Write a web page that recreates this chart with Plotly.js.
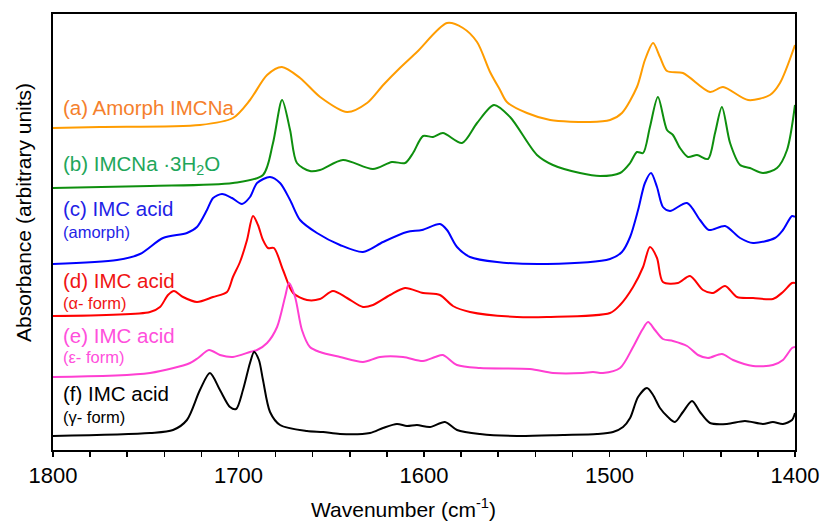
<!DOCTYPE html>
<html>
<head>
<meta charset="utf-8">
<script src="https://cdn.plot.ly/plotly-3.0.1.min.js"></script>
<style>html,body{margin:0;padding:0;background:#fff;}#chart{width:822px;height:521px;}</style>
</head>
<body>
<div id="chart"></div>
<script>
// Wavenumber (cm-1) and offset absorbance (arbitrary units)
const wn_a = [1800,1774.7,1720.8,1703,1693.8,1684.6,1676.6,1666.8,1656,1641.5,1630.7,1622,1613,1603.8,1587.6,1579,1571.4,1564.4,1559,1555.3,1544.5,1532,1510.5,1499.7,1493.3,1485.2,1480.9,1476.5,1472.8,1469,1460.4,1445.8,1438.8,1425.3,1413.5,1408.1,1400];
const abs_a = [322,323,325,332,350,375,383,372,353,338,347,365,382,398,427,422,408,378,360,348,337,330,328,330,337,363,390,407,393,379,377,358,363,350,355,367,405];

const wn_b = [1800,1747.7,1703,1686.8,1681.4,1676.5,1672.2,1668.5,1661.5,1656.1,1643.7,1627.5,1617.3,1610.2,1605.9,1600.5,1595.1,1589.8,1579.5,1571.4,1562.3,1553.6,1539.1,1530.5,1515.9,1505.1,1494.3,1488.9,1485.2,1481.9,1478.2,1473.9,1469,1465.8,1462,1457.7,1452.8,1446.9,1443.1,1439.4,1435,1429.6,1424.3,1417.3,1409.7,1404.3,1400];
const abs_b = [262,264,267,275,307,350,320,287,279,280,290,281,288,287,297,314,313,317,307,327,345,333,295,285,277,274,277,287,298,297,323,353,320,315,302,293,295,291,317,343,307,285,282,277,282,300,345];

const wn_c = [1800,1765.5,1753.1,1740.7,1727.8,1722.4,1717,1713.7,1708.9,1703.5,1698.1,1693.8,1690,1683,1677.6,1672.2,1666.8,1657.7,1645.3,1632.9,1622.1,1609.2,1601.1,1591.4,1587.6,1582.2,1575.2,1560.6,1533.7,1499.7,1493.3,1488.9,1484.6,1480.9,1477.6,1474.4,1471.2,1467.4,1458.2,1451.2,1446.4,1437.7,1429.6,1422.6,1410.8,1406.5,1401.6,1400];
const abs_c = [186,190,196,212,217,223,240,252,256,252,246,253,267,273,267,250,230,217,205,198,208,218,220,226,220,203,193,188,186,191,198,213,240,267,277,263,243,239,247,230,220,224,212,207,212,220,234,233];

const wn_d = [1800,1747.7,1742.3,1738,1734.8,1729.9,1722.4,1713.7,1706.2,1703,1699.2,1695.4,1692.2,1689.5,1686.8,1684.1,1680.9,1676,1670.6,1663.1,1656.1,1649.1,1641.5,1632.9,1627.5,1618.3,1610.2,1600.5,1591.4,1584.4,1575.2,1549.9,1533.7,1499.7,1494.3,1487.3,1481.9,1478.2,1474.4,1471.2,1463.1,1456.6,1449.6,1444.2,1437.7,1431.3,1422.6,1411.9,1406.5,1401.6,1400];
const abs_d = [134,138,143,155,159,153,148,153,158,173,188,210,234,225,210,202,202,180,157,150,151,159,152,143,145,155,162,157,155,144,138,133,133,137,145,163,183,203,192,168,167,174,160,157,164,153,152,151,158,167,167];

const wn_e = [1800,1747.7,1726.1,1721.8,1715.9,1710,1703,1693.8,1690,1684.6,1679.2,1674.9,1672.8,1669.5,1665.8,1661.5,1656.1,1645.3,1632.9,1623.7,1611.3,1600.5,1594,1589.8,1582.2,1569.8,1542.9,1530.5,1514.3,1508.9,1503.5,1494.3,1487.3,1482.4,1479.2,1475.5,1471.2,1465.8,1458.2,1452.3,1446.9,1439.4,1433.4,1422.6,1411.9,1406.5,1401.6,1400];
const abs_e = [73,77,87,92,100,95,93,98,100,107,123,153,167,153,120,103,98,93,88,93,93,89,93,95,85,82,81,77,77,78,77,82,103,120,128,120,111,109,104,95,92,96,90,84,85,90,102,103];

const wn_f = [1800,1747.7,1735.3,1727.8,1720.8,1715.4,1710,1704.6,1701.3,1697.6,1693.8,1691.6,1689,1686.8,1683,1677.6,1663.1,1654.4,1645.3,1629.1,1622.1,1614.6,1609.2,1603.8,1596.8,1588.7,1582.2,1569.8,1549.9,1525.1,1506.7,1498.1,1492.7,1488.9,1484.6,1479.8,1476.5,1472.8,1468.5,1464.7,1460.4,1455.5,1451.2,1445.8,1436.7,1427,1417.3,1411.9,1406.5,1401.6,1400];
const abs_f = [14,17,20,30,60,77,60,43,41,60,87,98,90,70,38,25,19,18,16,17,22,26,24,25,23,28,20,16,14,15,16,18,23,32,53,62,55,42,33,28,38,49,38,27,26,29,26,28,26,30,37];

const lineColors = ['#FF9C00','#0E8F0E','#0000FF','#FF0000','#FF3FD2','#000000'];
const labelColors = ['#F5802C','#1EA65A','#1F1FE6','#F01414','#FF50DC','#000000'];
const mainLabels = ['(a) Amorph IMCNa','(b) IMCNa ·3H<sub>2</sub>O','(c) IMC acid','(d) IMC acid','(e) IMC acid','(f) IMC acid'];
const subLabels = ['','','(amorph)','(α- form)','(ε- form)','(γ- form)'];
const mainLabelY = [343,285,242,170,115,57];
const subLabelY = [null,null,218,147,93,33];
const xTickVals = [1800,1700,1600,1500,1400];
const xTickText = ['1800','1700','1600','1500','1400'];

const wns = [wn_a,wn_b,wn_c,wn_d,wn_e,wn_f];
const abss = [abs_a,abs_b,abs_c,abs_d,abs_e,abs_f];

const FONT = 'Liberation Sans, Arial, sans-serif';
const traces = wns.map((w,i)=>({
  x: w, y: abss[i], type:'scatter', mode:'lines',
  line:{color:lineColors[i], width:2, shape:'spline', smoothing:0.8},
  hoverinfo:'skip', showlegend:false
}));

const annotations = [];
mainLabels.forEach((t,i)=>{
  annotations.push({xref:'paper', yref:'y', x:0.011, y:mainLabelY[i], text:t, showarrow:false,
    xanchor:'left', yanchor:'middle', font:{family:FONT, size:20.5, color:labelColors[i]}});
  if (subLabels[i]) annotations.push({xref:'paper', yref:'y', x:0.011, y:subLabelY[i], text:subLabels[i], showarrow:false,
    xanchor:'left', yanchor:'middle', font:{family:FONT, size:16.5, color:labelColors[i]}});
});
annotations.push({xref:'paper', yref:'y', x:-0.0404, y:237, text:'Absorbance (arbitrary units)', textangle:-90,
  showarrow:false, xanchor:'center', yanchor:'middle', font:{family:FONT, size:21, color:'#000'}});
annotations.push({xref:'x', yref:'paper', x:1610.8, y:-0.132, text:'Wavenumber (cm<sup>-1</sup>)',
  showarrow:false, xanchor:'center', yanchor:'middle', font:{family:FONT, size:21, color:'#000'}});

const layout = {
  width:822, height:521,
  margin:{l:53, r:27, t:14, b:71},
  paper_bgcolor:'#fff', plot_bgcolor:'#fff',
  font:{family:FONT, color:'#000'},
  xaxis:{range:[1800,1400], showgrid:false, zeroline:false, showline:true, linecolor:'#000', linewidth:2, mirror:true,
    tickvals:xTickVals, ticktext:xTickText, ticks:'outside', ticklen:5, tickwidth:1.5, tickcolor:'#000',
    tickfont:{family:FONT, size:22, color:'#000'},
    minor:{dtick:20, ticks:'outside', ticklen:5, tickwidth:1.5, tickcolor:'#000', showgrid:false}},
  yaxis:{range:[0,436], showgrid:false, zeroline:false, showline:true, linecolor:'#000', linewidth:2, mirror:true,
    showticklabels:false, ticks:''},
  annotations: annotations
};
Plotly.newPlot('chart', traces, layout, {displayModeBar:false, staticPlot:true});
</script>
</body>
</html>
